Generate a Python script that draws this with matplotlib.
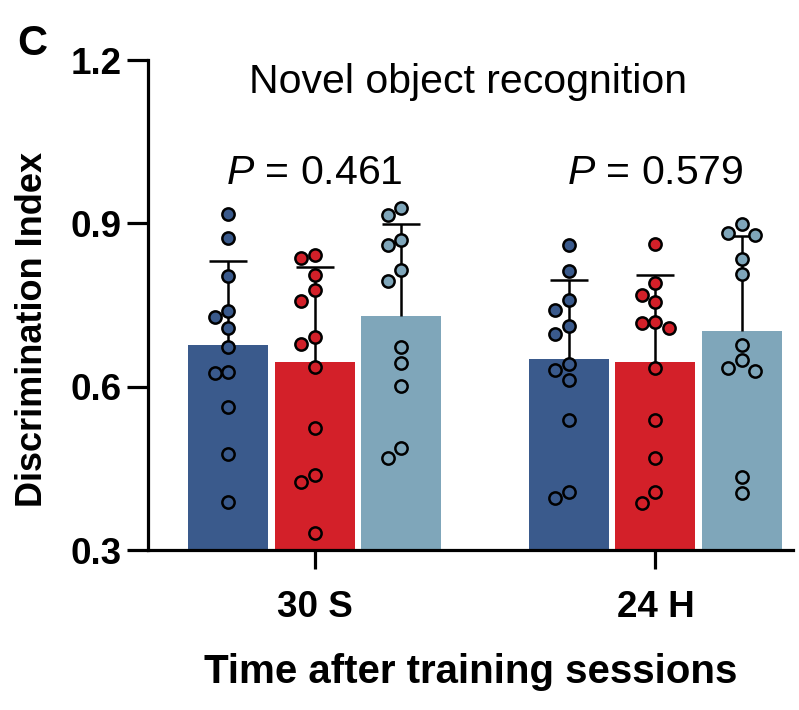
import numpy as np
import matplotlib.pyplot as plt

plt.rcParams['font.family'] = ['Liberation Sans', 'DejaVu Sans']
plt.rcParams['mathtext.fontset'] = 'custom'
plt.rcParams['mathtext.rm'] = 'Liberation Sans'
plt.rcParams['mathtext.it'] = 'Liberation Sans:italic'

# data
sessions = ["30 S", "24 H"]
p_values = ["0.461", "0.579"]
colors = ["#3A5A8C", "#D32029", "#7FA6BA"]

means = [[0.677, 0.646, 0.730],
         [0.651, 0.646, 0.702]]
sds = [[0.153, 0.173, 0.168],
       [0.145, 0.159, 0.175]]

pts_30s = [
    [0.917, 0.873, 0.803, 0.739, 0.728, 0.708, 0.672, 0.627, 0.626, 0.563, 0.477, 0.388],
    [0.841, 0.836, 0.806, 0.777, 0.757, 0.692, 0.678, 0.637, 0.524, 0.437, 0.425, 0.332],
    [0.928, 0.916, 0.869, 0.861, 0.814, 0.794, 0.673, 0.644, 0.602, 0.488, 0.469],
]
pts_24h = [
    [0.860, 0.813, 0.760, 0.741, 0.711, 0.697, 0.641, 0.630, 0.613, 0.539, 0.406, 0.395],
    [0.862, 0.790, 0.769, 0.755, 0.718, 0.717, 0.708, 0.634, 0.539, 0.469, 0.407, 0.387],
    [0.898, 0.882, 0.879, 0.834, 0.807, 0.677, 0.649, 0.635, 0.629, 0.434, 0.404],
]
points = [pts_30s, pts_24h]

fig = plt.figure(figsize=(7.99, 7.10), dpi=100)
ax = fig.add_axes([148 / 799, 160 / 710, 645 / 799, 490 / 710])

group_x = [0.0, 3.94]
bar_w = 0.925
xlim = (-1.925, 5.53)
ylim = (0.3, 1.2)
ax.set_xlim(*xlim)
ax.set_ylim(*ylim)

# pixel scale, used for the swarm layout
px_x = 645 / (xlim[1] - xlim[0])
px_y = 490 / (ylim[1] - ylim[0])


def swarm(vals, d=13.0, step=13.5):
    placed = []
    offs = []
    for v in vals:
        k = 0
        cands = [0]
        for i in range(1, 6):
            cands += [-i, i]
        for c in cands:
            ok = True
            for (pv, pc) in placed:
                dy = (v - pv) * px_y
                dx = (c - pc) * step
                if dx * dx + dy * dy < d * d:
                    ok = False
                    break
            if ok:
                k = c
                break
        placed.append((v, k))
        offs.append(k * step / px_x)
    return offs


for g in range(2):
    for j in range(3):
        xc = group_x[g] + (j - 1)
        ax.bar(xc, means[g][j] - ylim[0], bottom=ylim[0], width=bar_w,
               color=colors[j], edgecolor='none', zorder=1)
        eb = ax.errorbar(xc, means[g][j], yerr=[[0], [sds[g][j]]], fmt='none',
                         ecolor='black', elinewidth=1.8, capsize=14, capthick=1.8, zorder=2)
        # keep only the upper cap
        for cap in eb[1]:
            if abs(cap.get_ydata()[0] - means[g][j]) < 1e-9:
                cap.set_visible(False)
        vals = points[g][j]
        offs = swarm(vals)
        ax.scatter(xc + np.array(offs), vals, s=78, color=colors[j],
                   edgecolor='black', linewidth=1.8, zorder=3, clip_on=False)
    ax.text(group_x[g], 0.972, r'$P$ = ' + p_values[g], ha='center', va='baseline',
            fontsize=29.5)

ax.text(np.mean(xlim) - 0.03, 1.14, 'Novel object recognition', ha='center', va='baseline',
        fontsize=29.5)

for s in ['top', 'right']:
    ax.spines[s].set_visible(False)
for s in ['left', 'bottom']:
    ax.spines[s].set_linewidth(2.3)

ax.set_yticks([0.3, 0.6, 0.9, 1.2])
ax.set_yticklabels(['0.3', '0.6', '0.9', '1.2'], fontsize=26.5, fontweight='bold')
ax.set_xticks(group_x)
ax.set_xticklabels(sessions, fontsize=26.5, fontweight='bold')
ax.tick_params(axis='y', length=15, width=2.3, pad=4)
ax.tick_params(axis='x', length=14, width=2.3, pad=15)

ax.set_ylabel('Discrimination Index', fontsize=26, fontweight='bold')
ax.yaxis.set_label_coords(-0.152, 0.45)
ax.set_xlabel('Time after training sessions', fontsize=29, fontweight='bold', labelpad=20)

fig.text(0.022, 1 - 55 / 710, 'C', fontsize=30, fontweight='bold', va='baseline')

fig.savefig('out.png', dpi=100)
